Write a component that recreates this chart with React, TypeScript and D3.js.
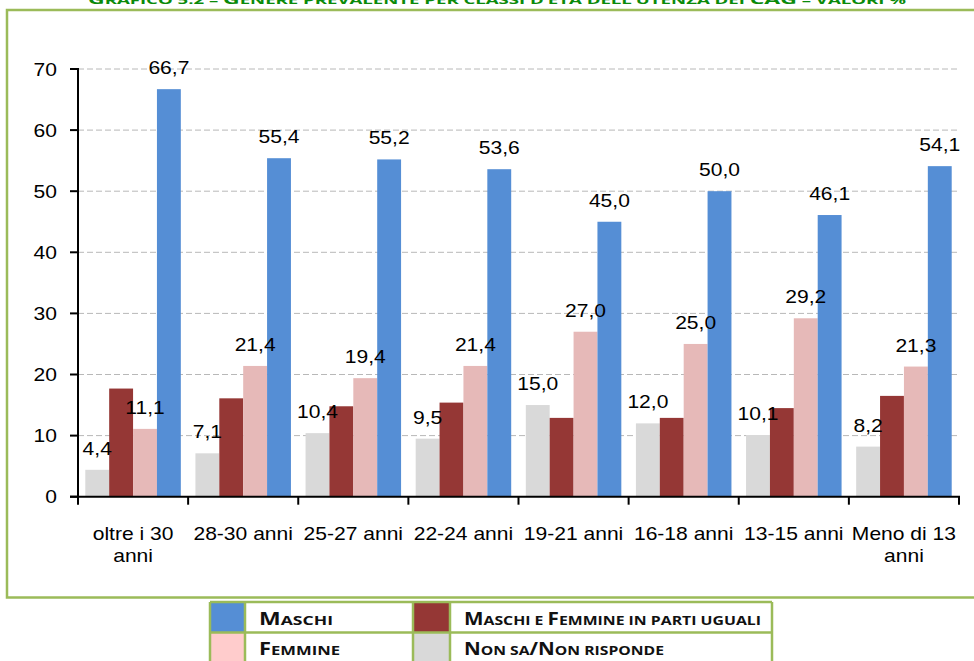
import React from "react";
import * as d3 from "d3";

const categories = [
  ["oltre i 30", "anni"],
  ["28-30 anni"],
  ["25-27 anni"],
  ["22-24 anni"],
  ["19-21 anni"],
  ["16-18 anni"],
  ["13-15 anni"],
  ["Meno di 13", "anni"],
];
const nonSa = [4.4, 7.1, 10.4, 9.5, 15.0, 12.0, 10.1, 8.2];
const uguali = [17.7, 16.1, 14.8, 15.4, 12.9, 12.9, 14.5, 16.5];
const femmine = [11.1, 21.4, 19.4, 21.4, 27.0, 25.0, 29.2, 21.3];
const maschi = [66.7, 55.4, 55.2, 53.6, 45.0, 50.0, 46.1, 54.1];
const yTicks = [0, 10, 20, 30, 40, 50, 60, 70];

const series = [
  { key: "nonSa", values: nonSa, color: "#d9d9d9", label: true },
  { key: "uguali", values: uguali, color: "#953735", label: false },
  { key: "femmine", values: femmine, color: "#e6b9b8", label: true },
  { key: "maschi", values: maschi, color: "#558ed5", label: true },
];

const GREEN = "#9bbb59";
const FONT = "'Liberation Sans', Arial, sans-serif";
const LFONT = "'Open Sans', 'Noto Sans', sans-serif";
const SX = 1.17;

function T({
  x,
  y,
  anchor = "start",
  children,
}: {
  x: number;
  y: number;
  anchor?: string;
  children: React.ReactNode;
}) {
  return (
    <text
      transform={`translate(${x},${y}) scale(${SX},1)`}
      textAnchor={anchor}
      fontFamily={FONT}
      fontSize={18}
      fill="#000"
    >
      {children}
    </text>
  );
}

function SmallCaps({ parts, big, small }: { parts: [string, boolean][]; big: number; small: number }) {
  return (
    <>
      {parts.map(([t, isBig], i) => (
        <tspan key={i} fontSize={isBig ? big : small}>
          {t}
        </tspan>
      ))}
    </>
  );
}

export default function App() {
  const W = 974;
  const H = 661;
  const x0 = 78;
  const x1 = 959;
  const yBase = 496.7;
  const yTop = 69;
  const catIdx = categories.map((_, i) => String(i));
  const x = d3.scaleBand<string>().domain(catIdx).range([x0, x1]);
  const bw = x.bandwidth();
  const pad = 7.3;
  const xs = d3
    .scaleBand<string>()
    .domain(series.map((s) => s.key))
    .range([pad, bw - pad]);
  const y = d3.scaleLinear().domain([0, 70]).range([yBase, yTop]);

  const legendRows = [
    [
      { color: "#558ed5", len: 74, parts: [["M", true], ["ASCHI", false]] as [string, boolean][] },
      {
        color: "#953735",
        len: 297,
        parts: [["M", true], ["ASCHI E ", false], ["F", true], ["EMMINE IN PARTI UGUALI", false]] as [string, boolean][],
      },
    ],
    [
      { color: "#ffcccc", len: 81, parts: [["F", true], ["EMMINE", false]] as [string, boolean][] },
      {
        color: "#d9d9d9",
        len: 200,
        parts: [["N", true], ["ON SA", false], ["/N", true], ["ON RISPONDE", false]] as [string, boolean][],
      },
    ],
  ];
  const colX = [210, 245, 413, 450, 772];
  const rowY = [602, 632.5, 663];

  return (
    <svg
      width={W}
      height={H}
      style={{ position: "absolute", left: 0, top: 0, background: "#fff" }}
      xmlns="http://www.w3.org/2000/svg"
    >
      {/* title (cut off at top, as in the source) */}
      <text
        x={88}
        y={4}
        fill="#0a8a0a"
        fontFamily={LFONT}
        fontWeight="bold"
        textLength={818}
        lengthAdjust="spacingAndGlyphs"
      >
        <SmallCaps
          big={13}
          small={10.5}
          parts={[
            ["G", true],
            ["RAFICO 5.2 – ", false],
            ["G", true],
            ["ENERE PREVALENTE PER CLASSI D’ETÀ DELL’UTENZA DEI ", false],
            ["CAG", true],
            [" – VALORI %", false],
          ]}
        />
      </text>

      {/* outer box */}
      <rect x={7} y={10} width={980} height={587.5} fill="none" stroke={GREEN} strokeWidth={2.5} />

      {/* gridlines */}
      {yTicks
        .filter((t) => t > 0)
        .map((t) => (
          <line
            key={t}
            x1={x0}
            x2={x1 + 1}
            y1={y(t)}
            y2={y(t)}
            stroke="#b8b8b8"
            strokeWidth={1}
            strokeDasharray="6,3"
          />
        ))}

      {/* bars */}
      {categories.map((_, i) => (
        <g key={i} transform={`translate(${x(String(i))},0)`}>
          {series.map((s) => (
            <rect
              key={s.key}
              x={xs(s.key)}
              y={y(s.values[i])}
              width={xs.bandwidth()}
              height={yBase - y(s.values[i])}
              fill={s.color}
            />
          ))}
        </g>
      ))}

      {/* value labels */}
      {categories.map((_, i) =>
        series
          .filter((s) => s.label)
          .map((s) => (
            <T
              key={s.key + i}
              x={(x(String(i)) as number) + (xs(s.key) as number) + xs.bandwidth() / 2}
              y={y(s.values[i]) - 15}
              anchor="middle"
            >
              {d3.format(".1f")(s.values[i]).replace(".", ",")}
            </T>
          ))
      )}

      {/* y axis */}
      <line x1={x0} x2={x0} y1={yTop - 1} y2={yBase + 1} stroke="#000" strokeWidth={2} />
      {yTicks.map((t) => (
        <g key={t}>
          <line x1={x0 - 8} x2={x0} y1={y(t)} y2={y(t)} stroke="#000" strokeWidth={2} />
          <T x={57} y={y(t) + 6.5} anchor="end">
            {t}
          </T>
        </g>
      ))}

      {/* x axis */}
      <line x1={x0 - 8} x2={x1 + 1} y1={yBase} y2={yBase} stroke="#000" strokeWidth={2} />
      {catIdx.concat(["end"]).map((c, i) => {
        const px = i < categories.length ? (x(c) as number) : x1;
        return <line key={c} x1={px} x2={px} y1={yBase} y2={yBase + 8} stroke="#000" strokeWidth={2} />;
      })}
      {categories.map((lines, i) =>
        lines.map((l, j) => (
          <T key={i + "-" + j} x={(x(String(i)) as number) + bw / 2} y={540 + j * 21.5} anchor="middle">
            {l}
          </T>
        ))
      )}

      {/* legend table */}
      <g>
        {legendRows.map((row, r) =>
          row.map((cell, c) => (
            <g key={`${r}-${c}`}>
              <rect
                x={colX[c * 2]}
                y={rowY[r]}
                width={colX[c * 2 + 1] - colX[c * 2]}
                height={rowY[r + 1] - rowY[r]}
                fill={cell.color}
              />
              <text
                x={colX[c * 2 + 1] + 14}
                y={rowY[r] + 22.5}
                fontFamily={LFONT}
                fontWeight="bold"
                fill="#111"
                textLength={cell.len}
                lengthAdjust="spacingAndGlyphs"
              >
                <SmallCaps big={17} small={13} parts={cell.parts} />
              </text>
            </g>
          ))
        )}
        {colX.map((cx) => (
          <line key={"v" + cx} x1={cx} x2={cx} y1={rowY[0]} y2={H + 2} stroke={GREEN} strokeWidth={2.5} />
        ))}
        {rowY.map((ry) => (
          <line key={"h" + ry} x1={colX[0]} x2={colX[4]} y1={ry} y2={ry} stroke={GREEN} strokeWidth={2.5} />
        ))}
      </g>
    </svg>
  );
}
